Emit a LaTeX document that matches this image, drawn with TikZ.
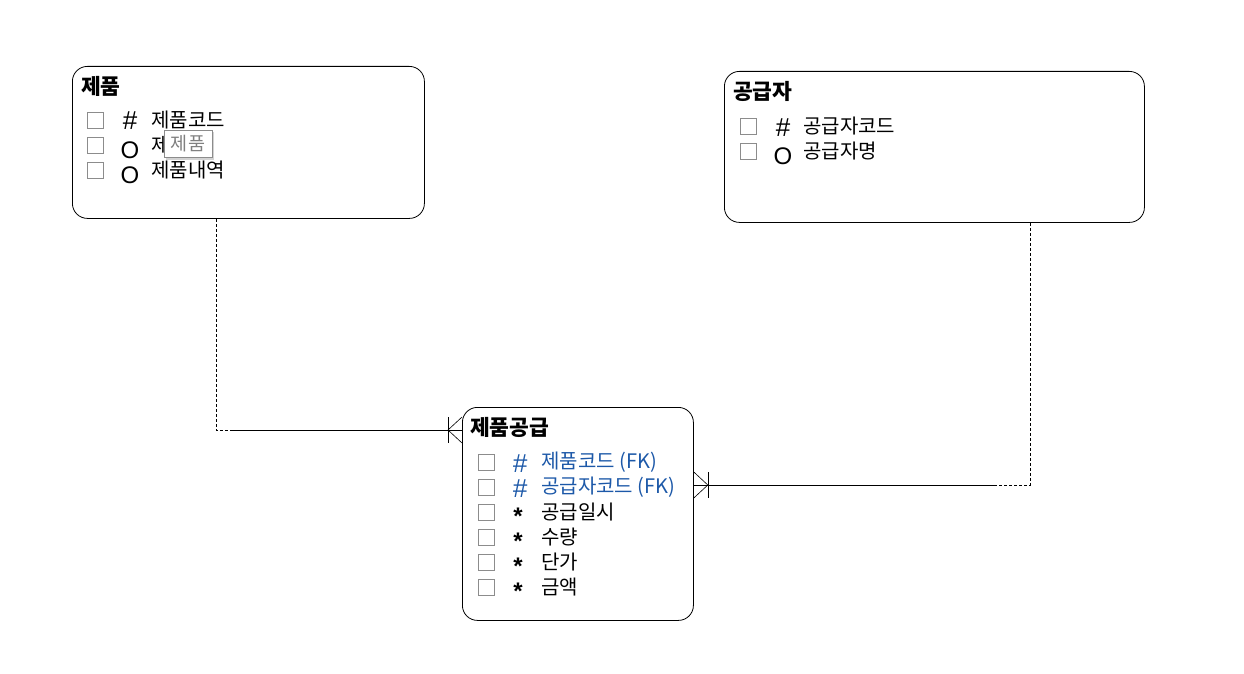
\documentclass[tikz,border=0pt]{standalone}
\usepackage{fontspec}
\newfontfamily\kr{Noto Sans CJK KR}
\newfontfamily\symf{Liberation Sans}
\usetikzlibrary{calc,shadows}
\definecolor{fkblue}{RGB}{28,88,168}
\definecolor{cbgray}{RGB}{140,140,140}
\begin{document}
\begin{tikzpicture}[x=1pt,y=-1pt,
  entity/.style={draw, rounded corners=15pt, line width=0.8pt, anchor=north west, inner sep=0},
  cb/.style={draw=cbgray, minimum size=16pt, inner sep=0, line width=0.7pt},
  title/.style={anchor=west, inner sep=0, font=\kr\bfseries\fontsize{21.5}{21.5}\selectfont},
  attr/.style={anchor=west, inner sep=0, font=\kr\fontsize{20}{20}\selectfont},
  sym/.style={anchor=base, inner sep=0, text height=16pt, text depth=0pt, font=\symf\fontsize{24}{24}\selectfont},
  star/.style={anchor=base, inner sep=0, text height=12pt, text depth=0pt, font=\symf\bfseries\fontsize{24}{24}\selectfont},
  hash/.style={anchor=base, inner sep=0, text height=17pt, text depth=0pt, font=\symf\fontsize{26}{26}\selectfont},
  rel/.style={line width=0.8pt},
  reldash/.style={line width=0.8pt, dash pattern=on 3pt off 2pt},
  crow/.style={line width=0.6pt}]
\useasboundingbox (0,0) rectangle (1244,674);

% entities
\node[entity, minimum width=352pt, minimum height=152pt] (prod) at (72,66) {};
\node[entity, minimum width=420pt, minimum height=151pt] (supp) at (724,71) {};
\node[entity, minimum width=231pt, minimum height=213pt] (ps) at (462,407) {};

% 제품
\node[title] (t1) at (81,86) {제품};
\node[cb] (c11) at (95,120) {};
\node[cb] (c12) at (95,145) {};
\node[cb] (c13) at (95,170) {};
\node[hash] (s11) at (130,130) {\#};
\node[sym] (s12) at (130,158) {O};
\node[sym] (s13) at (130,183) {O};
\node[attr] (a11) at (151,120) {제품코드};
\node[attr] (a12) at (151,145) {제품명};
\node[attr] (a13) at (151,170) {제품내역};
\node[draw=cbgray, fill=white, drop shadow={shadow xshift=2pt, shadow yshift=-2pt, opacity=0.35}, minimum width=48pt, minimum height=27pt, inner sep=0, text=gray, font=\kr\fontsize{18.5}{18.5}\selectfont] (tip) at (188,144) {제품};

% 공급자
\node[title] (t2) at (733,91) {공급자};
\node[cb] (c21) at (748,126) {};
\node[cb] (c22) at (748,151) {};
\node[hash] (s21) at (783,136) {\#};
\node[sym] (s22) at (783,164) {O};
\node[attr] (a21) at (803,126) {공급자코드};
\node[attr] (a22) at (803,151) {공급자명};

% 제품공급
\node[title] (t3) at (470,427) {제품공급};
\foreach \i/\yy in {1/462,2/487,3/512,4/537,5/562,6/587}{
  \node[cb] (c3\i) at (486,\yy) {};
}
\node[hash, text=fkblue] (s31) at (520,472) {\textit{\#}};
\node[hash, text=fkblue] (s32) at (520,497) {\textit{\#}};
\node[star] (s33) at (518,524) {*};
\node[star] (s34) at (518,549) {*};
\node[star] (s35) at (518,574) {*};
\node[star] (s36) at (518,599) {*};
\node[attr, text=fkblue] (a31) at (541,462) {제품코드 (FK)};
\node[attr, text=fkblue] (a32) at (541,487) {공급자코드 (FK)};
\node[attr] (a33) at (541,512) {공급일시};
\node[attr] (a34) at (541,537) {수량};
\node[attr] (a35) at (541,562) {단가};
\node[attr] (a36) at (541,587) {금액};

% connectors
\coordinate (k1) at (216,430);
\coordinate (k1b) at (232,430);
\draw[reldash] (prod.south -| k1) -- (k1) -- (k1b);
\draw[rel] (k1b) -- (ps.west |- k1);
\draw[crow] ($(ps.west |- k1)+(-14,-13)$) -- ($(ps.west |- k1)+(-14,13)$);
\draw[crow] ($(ps.west |- k1)+(0,-13)$) -- ($(ps.west |- k1)+(-14,0)$) -- ($(ps.west |- k1)+(0,13)$);

\coordinate (k2) at (1030,485);
\coordinate (k2b) at (995,485);
\draw[reldash] (supp.south -| k2) -- (k2) -- (k2b);
\draw[rel] (k2b) -- (ps.east |- k2);
\draw[crow] ($(ps.east |- k2)+(14,-13)$) -- ($(ps.east |- k2)+(14,13)$);
\draw[crow] ($(ps.east |- k2)+(0,-13)$) -- ($(ps.east |- k2)+(14,0)$) -- ($(ps.east |- k2)+(0,13)$);
\end{tikzpicture}
\end{document}
